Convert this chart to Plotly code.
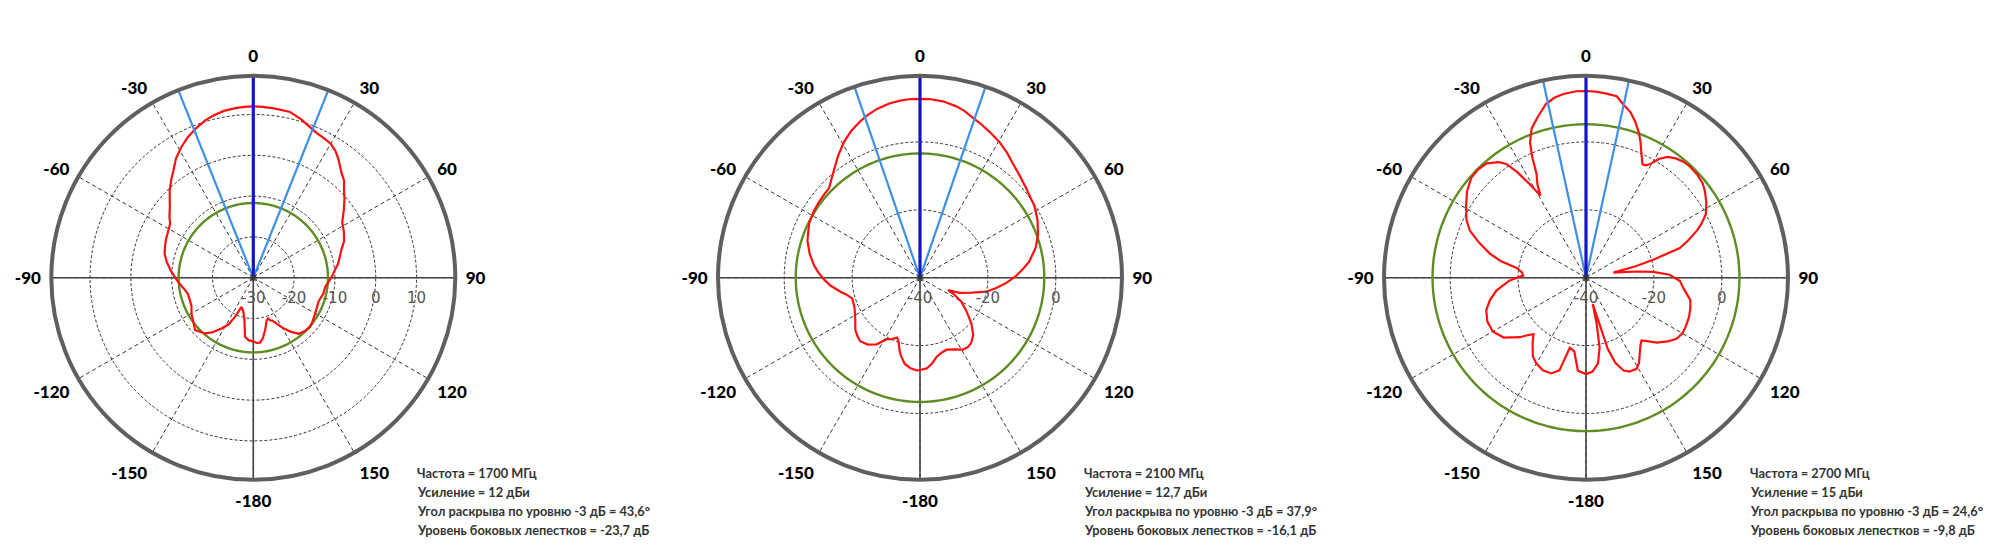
import numpy as np
import plotly.graph_objects as go

# ---------------- data ----------------
freq_mhz = [1700, 2100, 2700]
gain_dbi = ["12", "12,7", "15"]
beamwidth_deg = [43.6, 37.9, 24.6]
beamwidth_txt = ["43,6", "37,9", "24,6"]
sidelobe_db = ["-23,7", "-16,1", "-9,8"]
sidelobe_ring_db = [-11.7, -3.4, 5.2]
radial_min = [-30, -40, -40]
radial_max = [19.5, 19.5, 19.5]
radial_tickvals = [[-30, -20, -10, 0, 10], [-40, -20, 0], [-40, -20, 0]]
radial_ticktext = [["-30", "-20", "-10", "0", "10"], ["-40", "-20", "0"], ["-40", "-20", "0"]]

theta_1700 = [-180, -176, -172, -168, -163, -158, -155, -152, -148, -143, -139, -132, -126, -120,
              -115, -109, -104, -99, -93, -86, -80, -75, -70, -66, -62, -57, -54, -50, -47, -44,
              -40, -37, -33, -29, -25, -21, -17, -14, -10, -6, -3, 0, 3, 7, 12.5, 17, 20, 23.7,
              27, 30, 33, 36, 40, 43, 46, 49, 53, 58, 63, 68, 73, 76, 81, 85, 89, 93, 97, 103,
              110, 115, 120, 126, 131, 136, 141, 145, 149, 153, 156, 158.5, 160, 162.4, 165,
              167.4, 171, 174, 177, 180]
r_1700 = [-14.4, -14.6, -15.4, -19.5, -21.5, -22.3, -19.4, -17.0, -15.3, -13.2, -11.9, -10.8, -11.8,
          -12.5, -13.3, -13.5, -13.5, -12.8, -11.5, -9.9, -8.5, -7.5, -7.0, -6.6, -6.3, -5.7, -4.6,
          -3.3, -2.0, -0.5, 1.3, 2.6, 4.8, 6.5, 8.0, 9.2, 10.3, 10.9, 11.5, 11.8, 11.9, 12.0, 11.9,
          11.8, 11.6, 10.5, 9.6, 8.7, 8.3, 7.9, 7.0, 5.6, 3.6, 2.6, 0.9, -0.4, -2.2, -4.3, -5.1,
          -6.0, -7.5, -8.1, -9.0, -10.0, -10.7, -11.5, -12.2, -12.4, -13.0, -12.8, -12.5, -12.0,
          -11.6, -11.8, -12.3, -13.8, -15.5, -17.3, -18.5, -18.8, -19.4, -19.1, -18.0, -16.8,
          -15.0, -14.0, -14.0, -14.4]

theta_2100 = [-180, -178, -174, -170, -166, -164, -161, -159, -155, -151.6, -147, -142, -136.7,
              -133, -129, -122, -114.5, -107, -103, -100, -95, -91, -87, -83.4, -78, -71.8, -67,
              -63.8, -58, -53.2, -49, -45.4, -42, -38.8, -34, -29.3, -25, -20.9, -18, -14.3, -10,
              -6.4, -3, 0, 3, 7.4, 12, 15, 18.1, 22, 25.5, 30.4, 35, 39, 44, 49.8, 54, 57.8, 63.7,
              70, 75.5, 78, 81.7, 85, 89, 93.6, 98, 101.9, 106, 111, 113.7, 115.6, 120, 125.6,
              131.8, 137, 141.8, 145, 149, 154, 159.8, 164, 168, 172, 175.7, 180]
r_2100 = [-12.8, -12.7, -13.2, -14.2, -16.5, -18.0, -20.5, -21.1, -20.0, -19.4, -16.6, -15.0, -14.3,
          -14.8, -15.5, -17.5, -18.8, -19.1, -17.8, -16.2, -13.5, -11.7, -10.0, -8.6, -6.8, -5.1,
          -4.3, -3.6, -3.1, -2.8, -2.6, -2.4, -1.0, 0.5, 3.2, 5.8, 7.8, 9.3, 10.3, 11.3, 12.1,
          12.5, 12.7, 12.7, 12.7, 12.4, 11.6, 10.8, 9.7, 8.6, 7.6, 6.3, 4.8, 3.4, 2.1, 0.9, 0.2,
          -0.2, -1.4, -3.0, -4.8, -6.0, -7.5, -9.5, -11.7, -14.6, -17.5, -20.0, -24.0, -27.5,
          -31.0, -29.2, -26.0, -23.2, -19.7, -17.0, -15.6, -15.2, -15.3, -16.5, -17.4, -17.0,
          -16.2, -14.5, -13.2, -12.8]

theta_2700 = [-180, -175, -171, -167, -164, -160, -155, -150, -146, -141, -137, -134, -132, -126,
              -120, -114, -108, -103, -98, -92, -88, -85, -82, -79, -76, -72, -68, -64, -59, -54,
              -49, -45, -41, -37, -35, -33, -31, -29, -27.5, -25.5, -24, -22.5, -20, -17, -13,
              -10, -7, -3, 0, 3, 6, 9.6, 12, 15, 17.5, 20, 22, 24.5, 26.5, 28, 29.5, 31.5, 34,
              37, 40, 43, 47, 51, 54, 58, 62, 65, 67, 70, 72.5, 75, 77, 79.6, 83, 85, 88, 92,
              96, 102, 106, 111, 116, 120, 124, 128, 132.5, 136, 138.5, 141, 144, 148, 151, 155,
              158, 161, 163, 165.5, 167, 169, 172, 176, 180]
r_2700 = [-11.6, -12.5, -18.0, -18.8, -11.6, -10.0, -9.9, -10.8, -12.0, -15.0, -17.3, -15.5, -13.8,
          -10.0, -8.3, -8.2, -9.1, -11.0, -13.4, -17.5, -21.5, -21.0, -19.4, -14.5, -10.9, -7.0,
          -3.1, -0.8, 1.2, 3.3, 4.8, 5.0, 4.6, 2.6, 0.9, -3.0, -8.0, -12.3, -9.0, -6.2, -1.0,
          3.1, 6.8, 9.2, 12.5, 13.8, 14.5, 15.0, 15.0, 14.9, 14.6, 14.2, 12.3, 10.5, 8.2, 5.5,
          2.9, -0.5, -2.7, -2.5, -1.5, 1.0, 2.9, 4.0, 4.6, 4.8, 4.7, 4.2, 3.3, 1.8, 0.0, -2.5,
          -4.5, -8.0, -11.0, -19.5, -25.0, -31.8, -25.0, -20.1, -15.4, -12.3, -11.2, -8.6, -8.0,
          -7.5, -7.3, -7.2, -7.8, -9.5, -11.7, -14.0, -15.3, -14.5, -13.0, -10.5, -9.3, -9.5,
          -10.5, -13.5, -18.0, -32.0, -26.0, -19.0, -14.5, -12.3, -11.6]

angle_tickvals = [0, 30, 60, 90, 120, 150, 180, 210, 240, 270, 300, 330]
angle_ticktext = ["0", "30", "60", "90", "120", "150", "-180", "-150", "-120", "-90", "-60", "-30"]

patterns = [(theta_1700, r_1700), (theta_2100, r_2100), (theta_2700, r_2700)]

# ---------------- layout geometry (page pixels) ----------------
PAGE_W, PAGE_H = 2000, 557
PAGE_OFFSET = 8          # default margin of the HTML body
W, H = PAGE_W - 2 * PAGE_OFFSET, PAGE_H - 2 * PAGE_OFFSET   # figure fits without scrollbars
centers_x = [253.3, 920.0, 1586.0]
center_y = 277.7
R = 202.0
info_dx = 162
info_line_y = [473, 492, 511, 530]


def fx(x_page):
    return (x_page - PAGE_OFFSET) / W


def fy(y_page):
    return 1 - (y_page - PAGE_OFFSET) / H


RED = "#FF1010"
GREEN = "#5E8E23"
LIGHTBLUE = "#3D8FE8"
DARKBLUE = "#1414C8"
AXISGRAY = "#444444"
OUTER = "#5F5F5F"

label_font = dict(family="Lato, DejaVu Sans Condensed, sans-serif",
                  size=17, color="#000000", weight=900)
radial_font = dict(family="DejaVu Sans, Verdana, sans-serif", size=15, color="#555555")
info_font = dict(family="Lato, DejaVu Sans Condensed, sans-serif",
                 size=12.8, color="#333333", weight="bold")

fig = go.Figure()
layout_polars = {}
annotations = []

for i in range(3):
    key = "polar" if i == 0 else f"polar{i + 1}"
    sub = key
    rmin, rmax = radial_min[i], radial_max[i]
    th, rr = patterns[i]
    half = beamwidth_deg[i] / 2.0

    # solid cross lines: horizontal diameter and lower vertical radius
    for t in (-90, 90, 180):
        fig.add_trace(go.Scatterpolar(theta=[t, t], r=[rmin, rmax], mode="lines",
                                      line=dict(color=AXISGRAY, width=1.6), subplot=sub,
                                      showlegend=False, hoverinfo="skip"))
    # side-lobe reference ring
    ring_theta = np.linspace(0, 360, 361)
    fig.add_trace(go.Scatterpolar(theta=ring_theta, r=[sidelobe_ring_db[i]] * len(ring_theta),
                                  mode="lines", line=dict(color=GREEN, width=2.4), subplot=sub,
                                  showlegend=False, hoverinfo="skip"))
    # radiation pattern
    fig.add_trace(go.Scatterpolar(theta=th, r=rr, mode="lines",
                                  line=dict(color=RED, width=2.2), subplot=sub,
                                  showlegend=False))
    # -3 dB beamwidth lines
    for s in (-1, 1):
        fig.add_trace(go.Scatterpolar(theta=[s * half, s * half], r=[rmin, rmax], mode="lines",
                                      line=dict(color=LIGHTBLUE, width=2.2), subplot=sub,
                                      showlegend=False, hoverinfo="skip"))
    # main direction
    fig.add_trace(go.Scatterpolar(theta=[0, 0], r=[rmin, rmax], mode="lines",
                                  line=dict(color=DARKBLUE, width=3.2), subplot=sub,
                                  showlegend=False, hoverinfo="skip"))
    # centre marker
    fig.add_trace(go.Scatterpolar(theta=[0], r=[rmin], mode="markers",
                                  marker=dict(symbol="asterisk-open", size=8, color="#333333",
                                              line=dict(color="#333333", width=1)),
                                  subplot=sub, showlegend=False, hoverinfo="skip"))

    cx = centers_x[i]
    layout_polars[key] = dict(
        domain=dict(x=[fx(cx - R), fx(cx + R)], y=[fy(center_y + R), fy(center_y - R)]),
        bgcolor="white",
        angularaxis=dict(
            rotation=90, direction="clockwise",
            tickmode="array", tickvals=angle_tickvals, ticktext=angle_ticktext,
            tickfont=label_font, ticks="outside", ticklen=5, tickcolor="rgba(0,0,0,0)",
            showline=True, linecolor=OUTER, linewidth=4,
            showgrid=True, gridcolor="#333333", gridwidth=1.2, griddash="4px,3px",
        ),
        radialaxis=dict(
            range=[rmin, rmax], tickmode="array",
            tickvals=radial_tickvals[i], ticktext=radial_ticktext[i],
            angle=0, side="clockwise", tickangle=0,
            showline=False, ticks="outside", ticklen=7, tickcolor="rgba(0,0,0,0)",
            tickfont=radial_font,
            showgrid=True, gridcolor="#333333", gridwidth=1.2, griddash="3px,2px",
        ),
    )

    lines = [f"Частота = {freq_mhz[i]} МГц",
             f"Усиление = {gain_dbi[i]} дБи",
             f"Угол раскрыва по уровню -3 дБ = {beamwidth_txt[i]}°",
             f"Уровень боковых лепестков = {sidelobe_db[i]} дБ"]
    for j, line in enumerate(lines):
        annotations.append(dict(text=line, xref="paper", yref="paper",
                                x=fx(centers_x[i] + info_dx), y=fy(info_line_y[j]),
                                xanchor="left", yanchor="middle",
                                align="left", showarrow=False, font=info_font))

fig.update_layout(width=W, height=H, margin=dict(l=0, r=0, t=0, b=0),
                  paper_bgcolor="white", plot_bgcolor="white",
                  annotations=annotations, **layout_polars)

fig.write_html("out.html")
